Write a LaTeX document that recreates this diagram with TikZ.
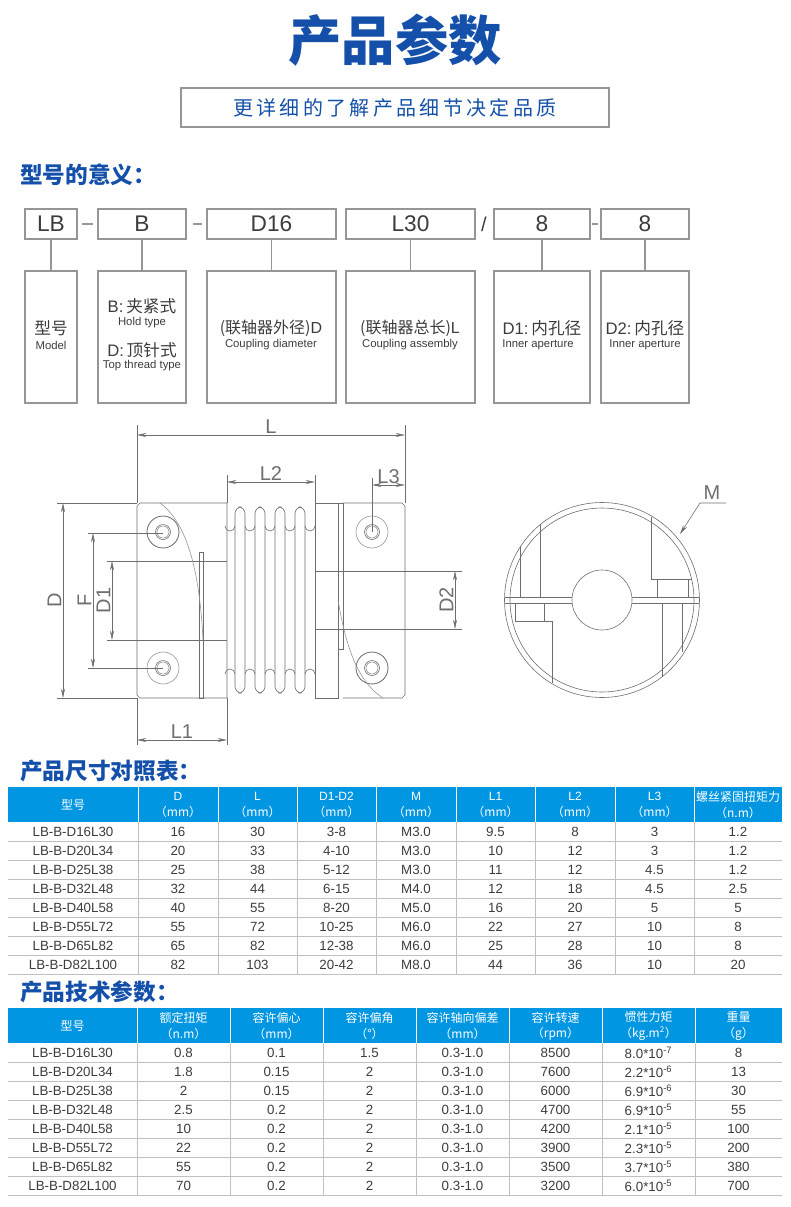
\documentclass[tikz,border=0pt]{standalone}
\usepackage{fontspec}
\setmainfont{Noto Sans CJK SC}
\newfontfamily\lat{Liberation Sans}
\usetikzlibrary{arrows.meta}
\definecolor{tblue}{RGB}{20,80,170}
\definecolor{hblue}{RGB}{0,150,225}
\definecolor{lgray}{RGB}{150,150,150}
\definecolor{dgray}{RGB}{60,60,60}
\definecolor{dline}{RGB}{110,110,110}
\tikzset{
 codebox/.style={draw=lgray,line width=0.8pt},
 txt/.style={text=dgray,inner sep=0pt},
 dl/.style={draw=dline,line width=0.45pt},
 dim/.style={draw=dline,line width=0.45pt,{Stealth[length=7pt,width=3pt]}-{Stealth[length=7pt,width=3pt]}},
 dimlab/.style={text=dline,font=\lat\fontsize{15}{15}\selectfont,inner sep=1pt},
 thd/.style={text=white,font=\fontsize{9}{11.5}\selectfont,align=center,inner sep=0pt},
 tc/.style={text=dgray,font=\lat\fontsize{10}{10}\selectfont,inner sep=0pt},
 sec/.style={text=tblue,font=\bfseries\fontsize{17}{17}\selectfont,anchor=west,inner sep=0pt}
}
\begin{document}
\begin{tikzpicture}[x=0.75pt,y=-0.75pt]
\useasboundingbox (0,0) rectangle (790,1207);
% title
\node[text=tblue,font=\bfseries\fontsize{40}{40}\selectfont] (title) at (395,40) {产品参数};
\draw[lgray,line width=0.8pt] (181,88) rectangle (609,127);
\node[text=tblue,font=\fontsize{15}{15}\selectfont] (sub) at (395,108) {更\,详\,细\,的\,了\,解\,产\,品\,细\,节\,决\,定\,品\,质};
\node[sec] (s1) at (20,175) {型号的意义：};
% code boxes
\foreach \n/\a/\b/\t in {c1/25/77/LB,c2/98/186/B,c3/207/336/D16,c4/346/475/L30,c5/494/590/8,c6/601/689/8}{
  \draw[codebox] (\a,209) rectangle (\b,239);
  \node[txt,font=\lat\fontsize{17}{17}\selectfont] (\n) at ({(\a+\b)/2},224) {\t};
  \draw[codebox] (\a,271) rectangle (\b,403);
  \coordinate (\n t) at ({(\a+\b)/2},239);
  \coordinate (\n b) at ({(\a+\b)/2},271);
  \draw[lgray,line width=0.8pt] (\n t) -- (\n b);
}
\foreach \a/\b in {82/93,193/202,592/598}{\draw[lgray,line width=0.8pt] (\a,224) -- (\b,224);}
\node[txt,font=\lat\fontsize{15}{15}\selectfont] (slash) at (484,224) {/};
\node[txt,font=\fontsize{12.5}{12.5}\selectfont] (m1) at (51,328) {型号};
\node[txt,font=\lat\fontsize{8.5}{9}\selectfont] (m1e) at (51,345) {Model};
\node[txt,font=\fontsize{12.5}{12.5}\selectfont] (m2a) at (142,306) {{\lat B:}\,夹紧式};
\node[txt,font=\lat\fontsize{8.5}{9}\selectfont] (m2b) at (142,323) {Hold type};
\node[txt,font=\fontsize{12.5}{12.5}\selectfont] (m2c) at (142,350) {{\lat D:}\,顶针式};
\node[txt,font=\lat\fontsize{8.5}{9}\selectfont] (m2d) at (142,366) {Top thread type};
\node[txt,font=\fontsize{12}{12}\selectfont] (m3) at (271,328) {(联轴器外径){\lat D}};
\node[txt,font=\lat\fontsize{8.5}{9}\selectfont] (m3e) at (271,345) {Coupling diameter};
\node[txt,font=\fontsize{12}{12}\selectfont] (m4) at (410,328) {(联轴器总长){\lat L}};
\node[txt,font=\lat\fontsize{8.5}{9}\selectfont] (m4e) at (410,345) {Coupling assembly};
\node[txt,font=\fontsize{12.5}{12.5}\selectfont] (m5) at (542,328) {{\lat D1:}\,内孔径};
\node[txt,font=\lat\fontsize{8.5}{9}\selectfont] (m5e) at (538,345) {Inner aperture};
\node[txt,font=\fontsize{12.5}{12.5}\selectfont] (m6) at (645,328) {{\lat D2:}\,内孔径};
\node[txt,font=\lat\fontsize{8.5}{9}\selectfont] (m6e) at (645,345) {Inner aperture};
% ===== side drawing =====
\draw[dl] (140,503) -- (227,503) -- (227,698) -- (140,698) -- (137,695) -- (137,506) -- cycle;
\draw[dl] (137,561) -- (227,561); \draw[dl] (137,640) -- (227,640);
\draw[dl] (199,552) rectangle (203,698);
\draw[dl,lgray] (160,503) .. controls (190,525) and (200,580) .. (203,640);
\foreach \y in {532,668}{
 \draw[dl,lgray] (163,\y) circle (16); \draw[dl] (163,\y) circle (7.5); \draw[dl,lgray] (163,\y) circle (6);}
\draw[dl] (163,532) circle (16);
\draw[dl] (315,503) -- (338,503) -- (338,698) -- (315,698) -- cycle;
\draw[dl] (343,503) -- (402,503) -- (405,506) -- (405,695) -- (402,698) -- (343,698);
\draw[dl] (338,503) rectangle (343,649);
\draw[dl] (315,571) -- (405,571); \draw[dl] (315,629) -- (405,629);
\draw[dl,lgray] (338,600) .. controls (345,640) and (355,680) .. (383,698);
\foreach \y in {532,668}{
 \draw[dl,lgray] (372,\y) circle (16); \draw[dl] (372,\y) circle (7.5); \draw[dl,lgray] (372,\y) circle (6);}
\draw[dl] (372,668) circle (16);
\foreach \x in {240,260,280,300}{
 \draw[dl,rounded corners=5pt] (\x-5,507) rectangle (\x+5,693);}
\foreach \x in {230,250,270,290,310}{
 \draw[dl] (\x-5,526) arc[start angle=180,end angle=0,radius=5];
 \draw[dl] (\x-5,674) arc[start angle=180,end angle=360,radius=5];}
\draw[dl] (137,425) -- (137,503); \draw[dl] (405,425) -- (405,503);
\draw[dim] (137,435) -- node[dimlab,above] (lL) {L} (405,435);
\draw[dl] (227,475) -- (227,503); \draw[dl] (315,475) -- (315,503);
\draw[dim] (227,482) -- node[dimlab,above] (lL2) {L2} (315,482);
\draw[dl] (372,478) -- (372,532);
\draw[dim] (372,485) -- node[dimlab,above] (lL3) {L3} (405,485);
\draw[dl] (57,503) -- (137,503); \draw[dl] (57,698) -- (137,698);
\draw[dim] (63,503) -- node[dimlab,rotate=90,anchor=south] (lD) {D} (63,698);
\draw[dl] (88,533) -- (163,533); \draw[dl] (88,668) -- (163,668);
\draw[dim] (93,533) -- node[dimlab,rotate=90,anchor=south] (lF) {F} (93,668);
\draw[dl] (107,561) -- (137,561); \draw[dl] (107,640) -- (137,640);
\draw[dim] (112,561) -- node[dimlab,rotate=90,anchor=south] (lD1) {D1} (112,640);
\draw[dl] (405,571) -- (462,571); \draw[dl] (405,629) -- (462,629);
\draw[dim] (455,571) -- node[dimlab,rotate=90,anchor=south] (lD2) {D2} (455,629);
\draw[dl] (137,698) -- (137,745); \draw[dl] (227,698) -- (227,745);
\draw[dim] (137,740) -- node[dimlab,above] (lL1) {L1} (227,740);
% end view
\draw[dl] (602,600) circle (97.5);
\draw[dl] (602,600) circle (92);
\draw[dl] (602,600) circle (30);
\draw[dl] (505,597) -- (572,597); \draw[dl] (632,597) -- (699,597);
\draw[dl] (505,603) -- (572,603); \draw[dl] (632,603) -- (699,603);
\draw[dl] (520,597) -- (520,546); \draw[dl] (540,597) -- (540,524);
\draw[dl] (515,603) -- (515,621) -- (552,621) -- (552,683);
\draw[dl] (544,603) -- (544,621);
\draw[dl] (651,517) -- (651,579) -- (692,579); \draw[dl] (657,579) -- (657,597); \draw[dl] (688,579) -- (688,597);
\draw[dl] (662,603) -- (662,677); \draw[dl] (682,603) -- (682,652);
\coordinate (mk) at (680,534);
\draw[dl,{Stealth[length=7pt,width=3pt]}-] (mk) -- (700,503) -- (726,503);
\node[dimlab,anchor=south] (lM) at (712,501) {M};
% ===== table 1 =====
\node[sec] (s2) at (20,771) {产品尺寸对照表：};
\fill[hblue] (8,787) rectangle (782,822);
\foreach \x in {138,218,297,376,456,535,615,694}{\draw[white,line width=0.6pt] (\x,787) -- (\x,822); \draw[lgray!60,line width=0.6pt] (\x,822) -- (\x,974);}
\foreach \c/\t in {73/型号,178/{\lat D}\\（mm）,257.5/{\lat L}\\（mm）,336.5/{\lat D1-D2}\\（mm）,416/{\lat M}\\（mm）,495.5/{\lat L1}\\（mm）,575/{\lat L2}\\（mm）,654.5/{\lat L3}\\（mm）,738/螺丝紧固扭矩力\\（n.m）}
 {\node[thd] at (\c,805) {\t};}
\foreach \a/\b/\c/\d/\e/\f/\g/\h/\k [count=\i from 0] in {
 LB-B-D16L30/16/30/3-8/M3.0/9.5/8/3/1.2,
 LB-B-D20L34/20/33/4-10/M3.0/10/12/3/1.2,
 LB-B-D25L38/25/38/5-12/M3.0/11/12/4.5/1.2,
 LB-B-D32L48/32/44/6-15/M4.0/12/18/4.5/2.5,
 LB-B-D40L58/40/55/8-20/M5.0/16/20/5/5,
 LB-B-D55L72/55/72/10-25/M6.0/22/27/10/8,
 LB-B-D65L82/65/82/12-38/M6.0/25/28/10/8,
 LB-B-D82L100/82/103/20-42/M8.0/44/36/10/20}{
 \pgfmathsetmacro{\yy}{831.5+19*\i}
 \draw[lgray!60,line width=0.6pt] (8,{822+19*(\i+1)}) -- (782,{822+19*(\i+1)});
 \node[tc] at (73,\yy) {\a}; \node[tc] at (178,\yy) {\b}; \node[tc] at (257.5,\yy) {\c};
 \node[tc] at (336.5,\yy) {\d}; \node[tc] at (416,\yy) {\e}; \node[tc] at (495.5,\yy) {\f};
 \node[tc] at (575,\yy) {\g}; \node[tc] at (654.5,\yy) {\h}; \node[tc] at (738,\yy) {\k};
}
% ===== table 2 =====
\node[sec] (s3) at (20,992) {产品技术参数：};
\fill[hblue] (8,1008) rectangle (782,1043);
\foreach \x in {137,230,323,416,509,602,695}{\draw[white,line width=0.6pt] (\x,1008) -- (\x,1043); \draw[lgray!60,line width=0.6pt] (\x,1043) -- (\x,1196);}
\foreach \c/\t in {72.5/型号,183.5/额定扭矩\\（n.m）,276.5/容许偏心\\（mm）,369.5/容许偏角\\（°）,462.5/容许轴向偏差\\（mm）,555.5/容许转速\\（rpm）,648.5/惯性力矩\\（kg.m\textsuperscript{2}）,738.5/重量\\（g）}
 {\node[thd] at (\c,1026) {\t};}
\foreach \a/\b/\c/\d/\f/\g/\h/\k [count=\i from 0] in {
 LB-B-D16L30/0.8/0.1/1.5/8500/8.0/-7/8,
 LB-B-D20L34/1.8/0.15/2/7600/2.2/-6/13,
 LB-B-D25L38/2/0.15/2/6000/6.9/-6/30,
 LB-B-D32L48/2.5/0.2/2/4700/6.9/-5/55,
 LB-B-D40L58/10/0.2/2/4200/2.1/-5/100,
 LB-B-D55L72/22/0.2/2/3900/2.3/-5/200,
 LB-B-D65L82/55/0.2/2/3500/3.7/-5/380,
 LB-B-D82L100/70/0.2/2/3200/6.0/-5/700}{
 \pgfmathsetmacro{\yy}{1052.5+19.1*\i}
 \draw[lgray!60,line width=0.6pt] (8,{1043+19.1*(\i+1)}) -- (782,{1043+19.1*(\i+1)});
 \node[tc] at (72.5,\yy) {\a};
 \node[tc] at (183.5,\yy) {\b}; \node[tc] at (276.5,\yy) {\c}; \node[tc] at (369.5,\yy) {\d};
 \node[tc] at (462.5,\yy) {0.3-1.0}; \node[tc] at (555.5,\yy) {\f};
 \node[tc] at (648.5,\yy) {\g*10\textsuperscript{\h}}; \node[tc] at (738.5,\yy) {\k};
}
\end{tikzpicture}
\end{document}
